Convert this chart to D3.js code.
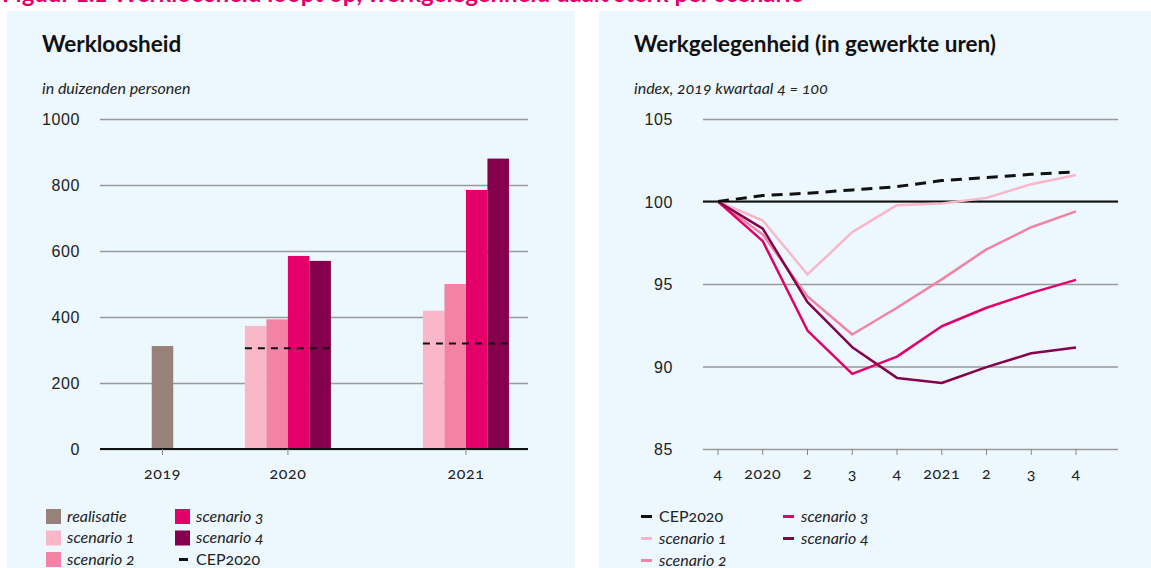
<!DOCTYPE html>
<html>
<head>
<meta charset="utf-8">
<script src="https://cdn.jsdelivr.net/npm/d3@7"></script>
<style>
  body { margin: 0; background: #fff; }
  svg { display: block; font-family: Lato, 'Open Sans', sans-serif; font-feature-settings: 'onum'; }
  .title { font-size: 22.5px; font-weight: 700; fill: #111; }
  .sub { font-size: 16px; font-style: italic; fill: #222; }
  .tick-label { font-size: 16px; fill: #222; letter-spacing: 0.6px; }
  .legend { font-size: 16px; fill: #222; }
</style>
</head>
<body>
<script>
// werkloosheid (in duizenden personen)
const years = ['2019', '2020', '2021']
const realisatie = [312, null, null]
const scen1 = [null, 373, 419]
const scen2 = [null, 393, 500]
const scen3 = [null, 585, 785]
const scen4 = [null, 570, 880]
const cepBars = [null, 305, 320]
const yTicksLeft = [0, 200, 400, 600, 800, 1000]

// werkgelegenheid, index 2019 kw4 = 100
const quarters = ['4', '2020', '2', '3', '4', '2021', '2', '3', '4']
const cepLine = [100, 100.36, 100.5, 100.7, 100.9, 101.27, 101.45, 101.65, 101.8]
const line1 = [100, 98.85, 95.58, 98.14, 99.78, 99.88, 100.22, 101.05, 101.6]
const line2 = [100, 98.0, 94.24, 91.94, 93.56, 95.28, 97.1, 98.44, 99.4]
const line3 = [100, 97.6, 92.18, 89.55, 90.6, 92.44, 93.56, 94.46, 95.25]
const line4 = [100, 98.36, 93.9, 91.17, 89.31, 89.0, 89.96, 90.8, 91.15]
const yTicksRight = [85, 90, 95, 100, 105]

const colors = {
  realisatie: '#978178',
  s1: '#f9b7c9',
  s2: '#f283a5',
  s3: '#e4006b',
  s4: '#85004d',
  cep: '#111'
}

const W = 1151, H = 568
const svg = d3.select('body').append('svg').attr('width', W).attr('height', H)

// figure title, only its lower edge falls inside the picture
svg.append('text')
  .attr('x', 2).attr('y', 1.5)
  .attr('font-size', 24).attr('font-weight', 700)
  .attr('fill', '#e4006b')
  .text('Figuur 1.1 Werkloosheid loopt op, werkgelegenheid daalt sterk per scenario')

// panels
svg.append('rect').attr('x', 7).attr('y', 11).attr('width', 568).attr('height', H - 11).attr('fill', '#ecf7fe')
svg.append('rect').attr('x', 599).attr('y', 11).attr('width', W - 599).attr('height', H - 11).attr('fill', '#ecf7fe')

// ---------- left chart ----------
const L = { left: 100, right: 528, top: 119, bottom: 449 }
const left = svg.append('g')

left.append('text').attr('class', 'title').attr('x', 42).attr('y', 52).text('Werkloosheid')
left.append('text').attr('class', 'sub').attr('x', 42).attr('y', 94).text('in duizenden personen')

const yL = d3.scaleLinear().domain([0, 1000]).range([L.bottom, L.top])
// group centres as fraction of the plot width
const groupPos = d3.scaleOrdinal().domain(years).range([0.146, 0.439, 0.855])
const xL = (yr) => L.left + groupPos(yr) * (L.right - L.left)
const sub = d3.scaleBand().domain(['s1', 's2', 's3', 's4']).range([-43, 43])
const bw = sub.bandwidth()

left.append('g')
  .attr('transform', `translate(${L.left},0)`)
  .call(d3.axisLeft(yL).tickValues(yTicksLeft).tickSize(-(L.right - L.left)).tickFormat(d3.format('d')))
  .call(g => g.select('.domain').remove())
  .call(g => g.selectAll('.tick line').attr('stroke', '#9a9a9a').attr('stroke-width', 1.5))
  .call(g => g.selectAll('.tick text').attr('class', 'tick-label').attr('x', -20).attr('dy', '0.35em'))

const seriesL = [
  { key: 's1', vals: scen1 },
  { key: 's2', vals: scen2 },
  { key: 's3', vals: scen3 },
  { key: 's4', vals: scen4 }
]

// realisatie
left.append('g').selectAll('rect')
  .data(years.map((y, i) => ({ y, v: realisatie[i] })).filter(d => d.v != null))
  .join('rect')
  .attr('x', d => xL(d.y) - bw / 2)
  .attr('y', d => yL(d.v))
  .attr('width', bw)
  .attr('height', d => yL(0) - yL(d.v))
  .attr('fill', colors.realisatie)

seriesL.forEach(s => {
  left.append('g').selectAll('rect')
    .data(years.map((y, i) => ({ y, v: s.vals[i] })).filter(d => d.v != null))
    .join('rect')
    .attr('x', d => xL(d.y) + sub(s.key))
    .attr('y', d => yL(d.v))
    .attr('width', bw)
    .attr('height', d => yL(0) - yL(d.v))
    .attr('fill', colors[s.key])
})

// CEP2020 dashed marks
left.append('g').selectAll('line')
  .data(years.map((y, i) => ({ y, v: cepBars[i] })).filter(d => d.v != null))
  .join('line')
  .attr('x1', d => xL(d.y) - 43).attr('x2', d => xL(d.y) + 44)
  .attr('y1', d => yL(d.v)).attr('y2', d => yL(d.v))
  .attr('stroke', colors.cep).attr('stroke-width', 2).attr('stroke-dasharray', '7,6')

// baseline + year ticks
left.append('line')
  .attr('x1', L.left).attr('x2', L.right).attr('y1', yL(0)).attr('y2', yL(0))
  .attr('stroke', '#111').attr('stroke-width', 2)
left.append('g').selectAll('line').data(years).join('line')
  .attr('x1', d => xL(d)).attr('x2', d => xL(d))
  .attr('y1', yL(0)).attr('y2', yL(0) + 6)
  .attr('stroke', '#888').attr('stroke-width', 1)
left.append('g').selectAll('text').data(years).join('text')
  .attr('class', 'tick-label')
  .attr('x', d => xL(d)).attr('y', 479)
  .attr('text-anchor', 'middle')
  .text(d => d)

// left legend
const legL = [
  { label: 'realisatie', c: colors.realisatie, col: 0, row: 0, type: 'box' },
  { label: 'scenario 1', c: colors.s1, col: 0, row: 1, type: 'box' },
  { label: 'scenario 2', c: colors.s2, col: 0, row: 2, type: 'box' },
  { label: 'scenario 3', c: colors.s3, col: 1, row: 0, type: 'box' },
  { label: 'scenario 4', c: colors.s4, col: 1, row: 1, type: 'box' },
  { label: 'CEP2020', c: colors.cep, col: 1, row: 2, type: 'dash' }
]
const lgL = left.append('g').selectAll('g').data(legL).join('g')
  .attr('transform', d => `translate(${46 + d.col * 129},${516 + d.row * 21.5})`)
lgL.filter(d => d.type === 'box').append('rect')
  .attr('x', 0).attr('y', -7).attr('width', 15).attr('height', 15).attr('fill', d => d.c)
lgL.filter(d => d.type === 'dash').append('line')
  .attr('x1', 4).attr('x2', 13).attr('y1', 0.5).attr('y2', 0.5)
  .attr('stroke', d => d.c).attr('stroke-width', 3)
lgL.append('text').attr('class', 'legend')
  .attr('x', 21).attr('y', 5.5)
  .attr('font-style', d => d.type === 'dash' ? 'normal' : 'italic')
  .text(d => d.label)

// ---------- right chart ----------
const R = { left: 703, right: 1118, top: 119, bottom: 449 }
const right = svg.append('g')

right.append('text').attr('class', 'title').attr('x', 634).attr('y', 52).text('Werkgelegenheid (in gewerkte uren)')
right.append('text').attr('class', 'sub').attr('x', 634).attr('y', 94).text('index, 2019 kwartaal 4 = 100')

const yR = d3.scaleLinear().domain([85, 105]).range([R.bottom, R.top])
const xR = d3.scaleLinear().domain([0, quarters.length - 1]).range([718, 1076])

right.append('g')
  .attr('transform', `translate(${R.left},0)`)
  .call(d3.axisLeft(yR).tickValues(yTicksRight).tickSize(-(R.right - R.left)))
  .call(g => g.select('.domain').remove())
  .call(g => g.selectAll('.tick line').attr('stroke', '#9a9a9a').attr('stroke-width', 1.5))
  .call(g => g.selectAll('.tick text').attr('class', 'tick-label').attr('x', -30).attr('dy', '0.35em'))

right.append('g').selectAll('line').data(quarters).join('line')
  .attr('x1', (d, i) => xR(i)).attr('x2', (d, i) => xR(i))
  .attr('y1', yR(85)).attr('y2', yR(85) + 6)
  .attr('stroke', '#888').attr('stroke-width', 1)
right.append('g').selectAll('text').data(quarters).join('text')
  .attr('class', 'tick-label')
  .attr('x', (d, i) => xR(i)).attr('y', 479)
  .attr('text-anchor', 'middle')
  .text(d => d)

// index 100 line
right.append('line')
  .attr('x1', R.left).attr('x2', R.right).attr('y1', yR(100)).attr('y2', yR(100))
  .attr('stroke', '#111').attr('stroke-width', 2)

const line = d3.line().x((d, i) => xR(i)).y(d => yR(d))
const seriesR = [
  { vals: line1, c: colors.s1 },
  { vals: line2, c: colors.s2 },
  { vals: line3, c: colors.s3 },
  { vals: line4, c: colors.s4 }
]
right.append('g').selectAll('path').data(seriesR).join('path')
  .attr('d', d => line(d.vals))
  .attr('fill', 'none')
  .attr('stroke', d => d.c)
  .attr('stroke-width', 2.5)
  .attr('stroke-linejoin', 'round')

right.append('path')
  .attr('d', line(cepLine))
  .attr('fill', 'none')
  .attr('stroke', colors.cep)
  .attr('stroke-width', 3)
  .attr('stroke-dasharray', '11,7')

// right legend
const legR = [
  { label: 'CEP2020', c: colors.cep, col: 0, row: 0 },
  { label: 'scenario 1', c: colors.s1, col: 0, row: 1 },
  { label: 'scenario 2', c: colors.s2, col: 0, row: 2 },
  { label: 'scenario 3', c: colors.s3, col: 1, row: 0 },
  { label: 'scenario 4', c: colors.s4, col: 1, row: 1 }
]
const lgR = right.append('g').selectAll('g').data(legR).join('g')
  .attr('transform', d => `translate(${641 + d.col * 142},${516 + d.row * 22})`)
lgR.append('line')
  .attr('x1', 0).attr('x2', 11).attr('y1', 0.5).attr('y2', 0.5)
  .attr('stroke', d => d.c).attr('stroke-width', 3)
lgR.append('text').attr('class', 'legend')
  .attr('x', 18).attr('y', 5.5)
  .attr('font-style', d => d.label === 'CEP2020' ? 'normal' : 'italic')
  .text(d => d.label)
</script>
</body>
</html>
